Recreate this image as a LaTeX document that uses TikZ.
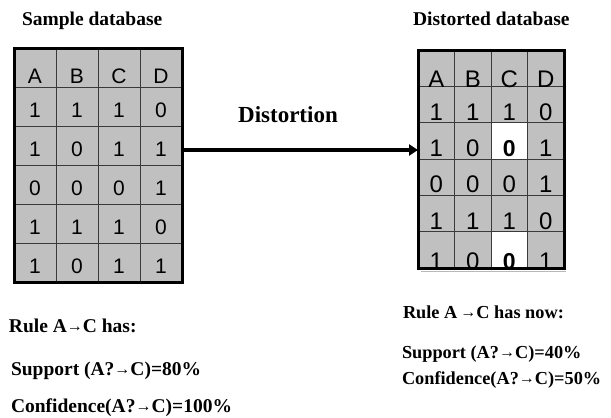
\documentclass[tikz,border=0pt]{standalone}
\usepackage{fontspec}
\setmainfont{Liberation Serif}
\newfontfamily\cellfont{Liberation Sans}
\usetikzlibrary{arrows.meta}
\definecolor{cellgray}{HTML}{C0C0C0}
\definecolor{gridline}{HTML}{3A3A3A}
\def\xmark{X}
\newcommand\smallarr{{\fontsize{16}{16}\selectfont\raisebox{0.5pt}{→}}}
\tikzset{
  every node/.style={inner sep=0pt, outer sep=0pt},
  lcell/.style={draw=gridline, line width=0.7pt, fill=cellgray, minimum width=42pt, minimum height=39pt},
  rcell/.style={draw=gridline, line width=0.7pt, fill=cellgray, minimum width=36.5pt, minimum height=36.3pt},
  wcell/.style={rcell, fill=white},
  ltxt/.style={font=\cellfont\fontsize{21}{21}\selectfont, anchor=base},
  rtxt/.style={font=\cellfont\fontsize{24}{24}\selectfont, anchor=base},
  frame/.style={draw=black, line width=3pt},
  title/.style={font=\bfseries\fontsize{19.5}{19.5}\selectfont, anchor=base west},
  note/.style={font=\bfseries\fontsize{19.5}{19.5}\selectfont, anchor=base west},
  rnote/.style={font=\bfseries\fontsize{18.3}{18.3}\selectfont, anchor=base west},
  flow/.style={line width=3.5pt, -{Triangle[length=9pt,width=11pt]}},
}
\begin{document}
\begin{tikzpicture}[x=1pt,y=-1pt]
\useasboundingbox (0,0) rectangle (611,418);
% titles
\node[title] (t1) at (22,25) {Sample database};
\node[title] (t2) at (413,25) {Distorted database};
% left table
\foreach \row [count=\j from 0] in {{A,B,C,D},{1,1,1,0},{1,0,1,1},{0,0,0,1},{1,1,1,0},{1,0,1,1}} {
  \pgfmathsetmacro\dy{\j==0 ? 5 : 0}
  \foreach \v [count=\i from 0] in \row {
    \node[lcell] (l-\j-\i) at ({14+42*\i+21},{48+39*\j+19.5}) {};
    \node[ltxt] at ({14+42*\i+21},{48+39*\j+30+\dy}) {\v};
  }
}
\node[frame, minimum width=168pt, minimum height=234pt] (ltab) at (98,165) {};
% right table
\draw[gray!55, line width=1.5pt] (421,271.5) -- (566,271.5);
\foreach \row [count=\j from 0] in {{A,B,C,D},{1,1,1,0},{1,0,X,1},{0,0,0,1},{1,1,1,0},{1,0,X,1}} {
  \foreach \v [count=\i from 0] in \row {
    \ifx\v\xmark
      \node[wcell] (r-\j-\i) at ({418+36.5*\i+18.25},{50+36.3*\j+18.15}) {};
    \else
      \node[rcell] (r-\j-\i) at ({418+36.5*\i+18.25},{50+36.3*\j+18.15}) {};
    \fi
  }
}
\begin{scope}
\clip (418,50) rectangle (564,268);
\foreach \row [count=\j from 0] in {{A,B,C,D},{1,1,1,0},{1,0,X,1},{0,0,0,1},{1,1,1,0},{1,0,X,1}} {
  \pgfmathsetmacro\dy{\j==5 ? 3.5 : (\j==0 ? 3 : 0)}
  \foreach \v [count=\i from 0] in \row {
    \ifx\v\xmark
      \node[rtxt, font=\cellfont\bfseries\fontsize{23}{23}\selectfont] at ({418+36.5*\i+18.25},{50+36.3*\j+34+\dy}) {0};
    \else
      \node[rtxt] at ({418+36.5*\i+18.25},{50+36.3*\j+34+\dy}) {\v};
    \fi
  }
}
\end{scope}
\node[frame, minimum width=146pt, minimum height=218pt] (rtab) at (491,159) {};
% arrow
\draw[flow] ([yshift=15pt]ltab.east) -- ([yshift=9pt]rtab.west);
\node[font=\bfseries\fontsize{23}{23}\selectfont, anchor=base] (dist) at (288,122) {Distortion};
% notes
\node[note] (n1) at (9,332) {Rule A\smallarr C has:};
\node[note] (n2) at (11,375) {Support (A?\smallarr C)=80\%};
\node[note] (n3) at (11,412) {Confidence(A?\smallarr C)=100\%};
\node[rnote] (n4) at (403,318) {Rule A\,\smallarr C has now:};
\node[rnote] (n5) at (402,358) {Support (A?\smallarr C)=40\%};
\node[rnote] (n6) at (402,384) {Confidence(A?\smallarr C)=50\%};
\end{tikzpicture}
\end{document}
